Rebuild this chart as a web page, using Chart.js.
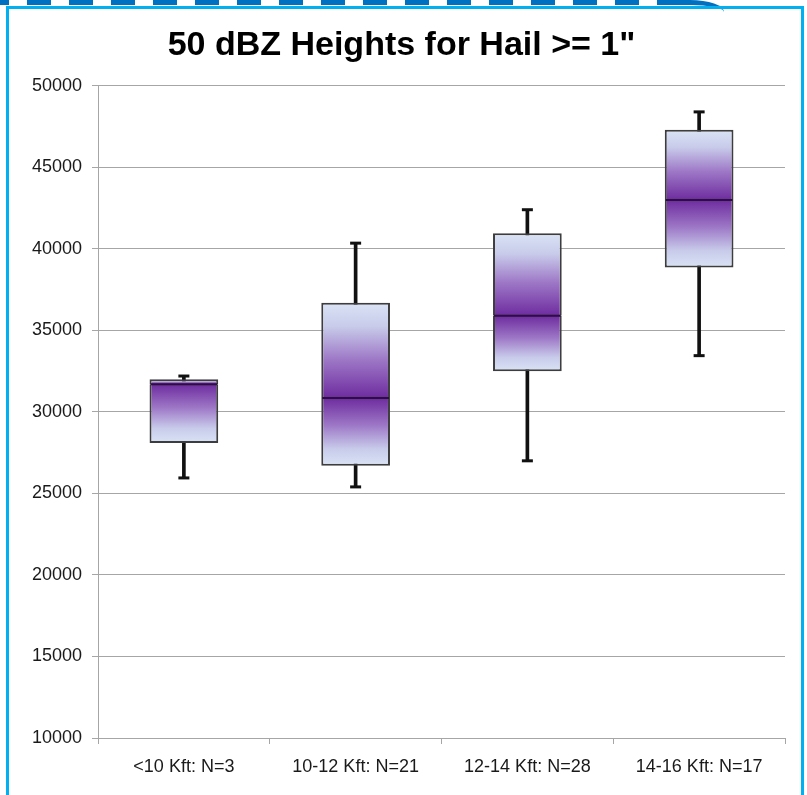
<!DOCTYPE html>
<html>
<head>
<meta charset="utf-8">
<title>50 dBZ Heights for Hail >= 1"</title>
<script src="https://cdn.jsdelivr.net/npm/chart.js@4/dist/chart.umd.min.js"></script>
<style>
  html, body { margin: 0; padding: 0; background: #ffffff; overflow: hidden; }
  #wrap { position: relative; width: 807px; height: 795px; }
  #chart { position: absolute; left: 0; top: 0; }
  #frame {
    position: absolute; left: 6px; top: 6px; width: 798px; height: 820px;
    border: 3px solid #00b0f0; border-bottom: none; box-sizing: border-box;
    pointer-events: none;
  }
  #dash {
    position: absolute; left: 0; top: 0; width: 690px; height: 5px;
    background: repeating-linear-gradient(90deg, #0070c0 0 24px, transparent 24px 42px);
    background-position: -15px 0;
  }
  #dashEnd {
    position: absolute; left: 690px; top: 0; width: 34px; height: 12px;
    border-top: 5px solid #0070c0; border-top-right-radius: 34px 12px; box-sizing: border-box;
  }
</style>
</head>
<body>
<div id="wrap">
  <canvas id="chart" width="807" height="795"></canvas>
  <div id="dash"></div>
  <div id="dashEnd"></div>
  <div id="frame"></div>
</div>
<script>
// Box-plot summary of 50 dBZ echo heights (ft) per freezing-level band
const categories = ['<10 Kft: N=3', '10-12 Kft: N=21', '12-14 Kft: N=28', '14-16 Kft: N=17'];
const minValues    = [25950, 25400, 27000, 33450];
const q1Values     = [28100, 26700, 32500, 38850];
const medianValues = [31700, 30850, 35900, 43000];
const q3Values     = [32000, 36700, 40950, 47300];
const maxValues    = [32200, 40350, 42400, 48400];
const yTickValues  = [10000, 15000, 20000, 25000, 30000, 35000, 40000, 45000, 50000];

const LIGHT = '#d9e3f5';
const PURPLE = '#6e2c9f';
const BOX_EDGE = '#3d3d3d';
const GRID = '#a6a6a6';
const FONT = 'Liberation Sans, Arial, sans-serif';

// Vertical gradient: pale blue at the quartile edge, deep purple at the median
function boxFill(ctx, upper) {
  const chart = ctx.chart;
  const y = chart.scales && chart.scales.y;
  if (!chart.chartArea || !y) return '#a88cc8';
  const i = ctx.dataIndex;
  const yMed = y.getPixelForValue(medianValues[i]);
  const yEdge = y.getPixelForValue(upper ? q3Values[i] : q1Values[i]);
  const g = chart.ctx.createLinearGradient(0, yEdge, 0, yMed);
  g.addColorStop(0, LIGHT);
  g.addColorStop(0.25, '#c8cbea');
  g.addColorStop(0.6, '#9d77c6');
  g.addColorStop(1, PURPLE);
  return g;
}

// Whisker caps and the median line of each box
const boxMarks = {
  id: 'boxMarks',
  afterDatasetsDraw(chart) {
    const { ctx, scales: { x, y } } = chart;
    const boxes = chart.getDatasetMeta(1).data;
    ctx.save();
    ctx.lineCap = 'butt';
    categories.forEach((c, i) => {
      const cx = x.getPixelForValue(i);
      ctx.strokeStyle = '#111111';
      ctx.lineWidth = 3;
      [minValues[i], maxValues[i]].forEach(v => {
        const py = y.getPixelForValue(v);
        ctx.beginPath();
        ctx.moveTo(cx - 5.5, py);
        ctx.lineTo(cx + 5.5, py);
        ctx.stroke();
      });
      const half = boxes[i].width / 2;
      const my = y.getPixelForValue(medianValues[i]);
      ctx.strokeStyle = '#2a0f3f';
      ctx.lineWidth = 2;
      ctx.beginPath();
      ctx.moveTo(cx - half + 1, my);
      ctx.lineTo(cx + half - 1, my);
      ctx.stroke();
    });
    ctx.restore();
  }
};

const boxCommon = {
  grouped: false,
  barPercentage: 0.4,
  categoryPercentage: 1.0,
  borderColor: BOX_EDGE,
  borderSkipped: false,
  order: 1
};

new Chart(document.getElementById('chart'), {
  type: 'bar',
  data: {
    labels: categories,
    datasets: [
      {
        label: 'range',
        data: categories.map((c, i) => [minValues[i], maxValues[i]]),
        backgroundColor: '#111111',
        borderWidth: 0,
        barThickness: 3,
        grouped: false,
        order: 3
      },
      Object.assign({}, boxCommon, {
        label: 'lower',
        data: categories.map((c, i) => [q1Values[i], medianValues[i]]),
        backgroundColor: ctx => boxFill(ctx, false),
        borderWidth: { top: 0, bottom: 2, left: 2, right: 2 }
      }),
      Object.assign({}, boxCommon, {
        label: 'upper',
        data: categories.map((c, i) => [medianValues[i], q3Values[i]]),
        backgroundColor: ctx => boxFill(ctx, true),
        borderWidth: { top: 2, bottom: 0, left: 2, right: 2 }
      })
    ]
  },
  options: {
    responsive: false,
    animation: false,
    layout: { padding: { left: 18, right: 22, top: 0, bottom: 0 } },
    plugins: {
      legend: { display: false },
      tooltip: { enabled: false },
      title: {
        display: true,
        text: '50 dBZ Heights for Hail >= 1"',
        color: '#000000',
        font: { family: FONT, size: 34, weight: 'bold', lineHeight: 1.2 },
        padding: { top: 25, bottom: 20 }
      }
    },
    scales: {
      x: {
        type: 'category',
        grid: { drawOnChartArea: false, drawTicks: true, tickLength: 6, color: GRID, offset: true },
        border: { color: GRID, width: 1 },
        ticks: {
          color: '#1a1a1a',
          padding: 12,
          font: { family: FONT, size: 18 }
        },
        afterFit(s) { s.height = 57; }
      },
      y: {
        min: yTickValues[0],
        max: yTickValues[yTickValues.length - 1],
        afterBuildTicks(s) { s.ticks = yTickValues.map(v => ({ value: v })); },
        grid: { color: GRID, lineWidth: 1, tickLength: 6 },
        border: { color: GRID, width: 1 },
        ticks: {
          color: '#1a1a1a',
          padding: 10,
          font: { family: FONT, size: 18 },
          callback: v => String(v)
        },
        afterFit(s) { s.width = 80; }
      }
    }
  },
  plugins: [boxMarks]
});
</script>
</body>
</html>
